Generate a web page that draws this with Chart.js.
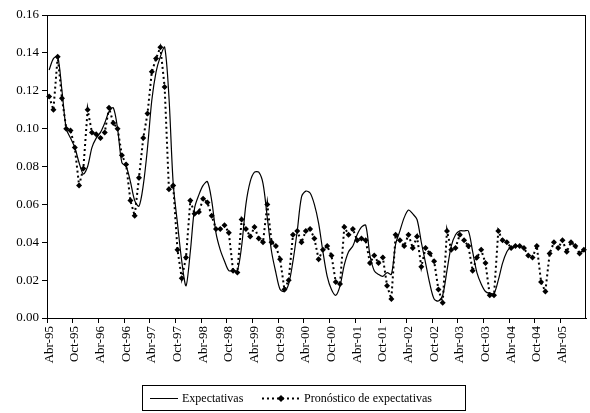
<!DOCTYPE html>
<html>
<head>
<meta charset="utf-8">
<script src="https://cdn.jsdelivr.net/npm/chart.js@4/dist/chart.umd.min.js"></script>
<style>
  body { margin: 0; background: #fff; }
  #wrap { width: 590px; height: 413px; }
</style>
</head>
<body>
<div id="wrap"><canvas id="grafico"></canvas></div>
<script>
// meses de Abr-95 a Sep-05
const MESES = ["Ene", "Feb", "Mar", "Abr", "May", "Jun", "Jul", "Ago", "Sep", "Oct", "Nov", "Dic"];
const meses = [];
for (let k = 0; k < 126; k++) {
  const m = (3 + k) % 12;
  const a = 95 + Math.floor((3 + k) / 12);
  meses.push(MESES[m] + "-" + String(a % 100).padStart(2, "0"));
}

const expectativas = [
  0.131, 0.137, 0.138, 0.120, 0.100, 0.095, 0.090, 0.082, 0.076, 0.080,
  0.090, 0.095, 0.098, 0.103, 0.109, 0.111, 0.100, 0.082, 0.080, 0.072,
  0.062, 0.059, 0.070, 0.090, 0.115, 0.130, 0.138, 0.143, 0.117, 0.071,
  0.050, 0.030, 0.017, 0.035, 0.058, 0.065, 0.070, 0.072, 0.062, 0.045,
  0.036, 0.030, 0.025, 0.025, 0.025, 0.038, 0.060, 0.072, 0.077, 0.077,
  0.071, 0.053, 0.035, 0.024, 0.015, 0.014, 0.018, 0.030, 0.046, 0.064,
  0.067, 0.066, 0.060, 0.050, 0.035, 0.022, 0.015, 0.012, 0.017, 0.028,
  0.035, 0.038, 0.044, 0.048, 0.049, 0.033, 0.025, 0.023, 0.022, 0.024,
  0.023, 0.039, 0.046, 0.053, 0.057, 0.055, 0.052, 0.040, 0.029, 0.018,
  0.010, 0.009, 0.012, 0.025, 0.038, 0.044, 0.046, 0.046, 0.046, 0.035,
  0.024, 0.018, 0.014, 0.013, 0.013, 0.020, 0.029, 0.035, 0.038
];

const pronostico = [
  0.117, 0.110, 0.138, 0.116, 0.100, 0.099, 0.090, 0.070, 0.079, 0.110,
  0.098, 0.097, 0.095, 0.098, 0.111, 0.103, 0.100, 0.086, 0.081, 0.062,
  0.054, 0.074, 0.095, 0.108, 0.130, 0.137, 0.143, 0.122, 0.068, 0.070,
  0.036, 0.021, 0.032, 0.062, 0.055, 0.056, 0.063, 0.061, 0.054, 0.047,
  0.047, 0.049, 0.045, 0.025, 0.024, 0.052, 0.047, 0.043, 0.048, 0.042,
  0.040, 0.060, 0.040, 0.038, 0.031, 0.015, 0.020, 0.044, 0.046, 0.040,
  0.046, 0.047, 0.042, 0.031, 0.036, 0.038, 0.033, 0.019, 0.018, 0.048,
  0.044, 0.047, 0.041, 0.042, 0.041, 0.029, 0.033, 0.029, 0.032, 0.017,
  0.010, 0.044, 0.041, 0.038, 0.044, 0.037, 0.043, 0.027, 0.037, 0.034,
  0.030, 0.015, 0.008, 0.046, 0.036, 0.037, 0.044, 0.041, 0.038, 0.025,
  0.032, 0.036, 0.029, 0.012, 0.012, 0.046, 0.041, 0.040, 0.037, 0.038,
  0.038, 0.037, 0.033, 0.032, 0.038, 0.019, 0.014, 0.034, 0.040, 0.037,
  0.041, 0.035, 0.040, 0.038, 0.034, 0.036
];

const ticksY = [0, 0.02, 0.04, 0.06, 0.08, 0.10, 0.12, 0.14, 0.16];

const FONTE = "'Liberation Serif', 'Times New Roman', serif";

// marco del area y leyenda abajo
const marcoYLeyenda = {
  id: "marcoYLeyenda",
  afterDraw(chart) {
    const { ctx, chartArea: a } = chart;
    ctx.save();
    ctx.strokeStyle = "#000";
    ctx.lineWidth = 1;
    ctx.strokeRect(a.left + 0.5, a.top + 0.5, a.right - a.left - 1, a.bottom - a.top);

    // leyenda
    const x0 = 142, y0 = 385, w = 323, h = 25;
    ctx.strokeRect(x0 + 0.5, y0 + 0.5, w, h);
    const ym = y0 + h / 2 + 1;
    ctx.lineWidth = 1;
    ctx.beginPath();
    ctx.moveTo(150, ym);
    ctx.lineTo(178, ym);
    ctx.stroke();
    ctx.font = "12px " + FONTE;
    ctx.fillStyle = "#000";
    ctx.textBaseline = "middle";
    ctx.fillText("Expectativas", 182, ym);
    ctx.lineWidth = 2;
    ctx.setLineDash([2, 3]);
    ctx.beginPath();
    ctx.moveTo(262, ym);
    ctx.lineTo(300, ym);
    ctx.stroke();
    ctx.setLineDash([]);
    ctx.beginPath();
    ctx.moveTo(281, ym - 3.5);
    ctx.lineTo(284.5, ym);
    ctx.lineTo(281, ym + 3.5);
    ctx.lineTo(277.5, ym);
    ctx.closePath();
    ctx.fill();
    ctx.fillText("Pronóstico de expectativas", 304, ym);
    ctx.restore();
  }
};

new Chart(document.getElementById("grafico"), {
  type: "line",
  data: {
    labels: meses,
    datasets: [
      {
        label: "Expectativas",
        data: expectativas,
        borderColor: "#000",
        borderWidth: 1.2,
        pointRadius: 0,
        tension: 0.3,
      },
      {
        label: "Pronóstico de expectativas",
        data: pronostico,
        borderColor: "#000",
        backgroundColor: "#000",
        borderWidth: 2,
        borderDash: [2, 3],
        pointStyle: "rectRot",
        pointRadius: 3,
        pointBorderWidth: 0,
        tension: 0,
      },
    ],
  },
  options: {
    responsive: true,
    maintainAspectRatio: false,
    animation: false,
    layout: { padding: { top: 15, right: 0, bottom: 35, left: 0 } },
    plugins: { legend: { display: false }, tooltip: { enabled: false } },
    scales: {
      x: {
        offset: true,
        afterFit: (ax) => { ax.height = 60; ax.paddingLeft = 0; ax.paddingRight = 0; },
        grid: {
          offset: true,
          drawOnChartArea: false,
          tickLength: 5,
          color: (c) => (c.index % 6 === 0 ? "#000" : "rgba(0,0,0,0)"),
        },
        border: { color: "#000" },
        ticks: {
          autoSkip: false,
          maxRotation: 90,
          minRotation: 90,
          color: "#000",
          font: { family: FONTE, size: 13 },
          callback: (v, i) => (i % 6 === 0 ? meses[i] : ""),
        },
      },
      y: {
        min: 0,
        max: 0.16,
        afterFit: (ax) => { ax.width = 47; ax.paddingTop = 0; ax.paddingBottom = 0; },
        afterBuildTicks: (ax) => { ax.ticks = ticksY.map((v) => ({ value: v })); },
        grid: { drawOnChartArea: false, tickLength: 5, color: "#000" },
        border: { color: "#000" },
        ticks: {
          color: "#000",
          font: { family: FONTE, size: 13 },
          callback: (v) => v.toFixed(2),
        },
      },
    },
  },
  plugins: [marcoYLeyenda],
});
</script>
</body>
</html>
